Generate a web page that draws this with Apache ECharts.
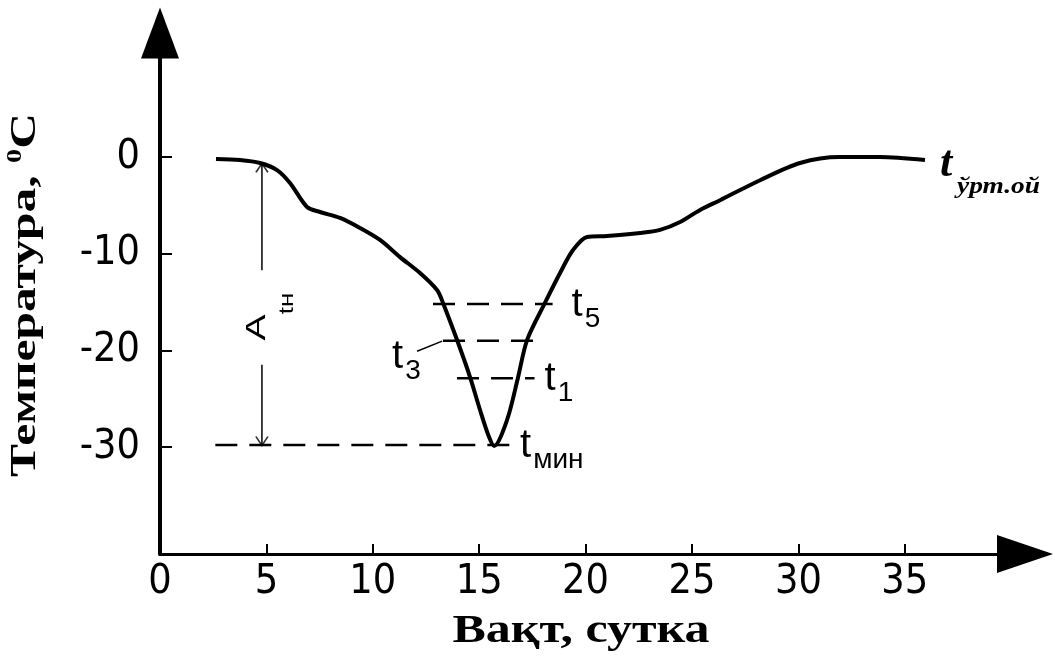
<!DOCTYPE html>
<html>
<head>
<meta charset="utf-8">
<title>Температура</title>
<script src="https://cdn.jsdelivr.net/npm/echarts@6.0.0/dist/echarts.min.js"></script>
<style>
  html, body { margin: 0; padding: 0; background: #fff; }
  #chart { width: 1055px; height: 660px; }
</style>
</head>
<body>
<div id="chart"></div>
<script>
// temperature curve
var days = [2.63, 3.76, 4.70, 5.50, 6.11, 6.91, 7.52, 8.46, 9.40, 10.34, 11.28, 12.22, 13.02, 13.3, 13.96, 14.57, 15.04, 15.45, 15.70, 16.31, 16.82, 17.25, 18.09, 18.80, 19.41, 20.07, 21.01, 22.56, 23.50, 24.44, 25.38, 26.32, 28.20, 30.08, 31.95, 33.83, 35.95]
var temps = [-0.2, -0.3, -0.61, -1.34, -2.68, -5.16, -5.68, -6.30, -7.34, -8.58, -10.35, -12.0, -13.76, -15.1, -18.94, -22.77, -26.18, -28.9, -29.9, -27.21, -22.86, -18.94, -15.1, -12.0, -9.62, -8.27, -8.17, -7.86, -7.54, -6.72, -5.47, -4.46, -2.39, -0.61, 0.0, 0.0, -0.3]

var dayTicks = [0, 5, 10, 15, 20, 25, 30, 35]
var tempTicks = [0, -10, -20, -30]

// dashed levels t5, t3, t1, tмин
var levelSubs = ['5', '3', '1', 'мин']
var levelTemps = [-15.2, -19.0, -22.9, -29.8]
var levelFrom = [12.83, 13.3, 13.96, 2.6]
var levelTo = [18.45, 17.95, 17.6, 16.45]

// amplitude A_tн (top, gap start, gap end, bottom)
var ampDay = 4.79
var ampTemps = [-0.7, -11.7, -21.5, -29.8]

// leader line of t3
var leaderDays = [12.08, 13.26]
var leaderTemps = [-20.1, -19.05]

var SANS = '"Liberation Sans", Arial, sans-serif'
var SERIF = '"Liberation Serif", "Times New Roman", serif'
var NARROW = '"Liberation Sans Narrow", "DejaVu Sans Condensed", sans-serif'

var chart = echarts.init(document.getElementById('chart'))

var series = [{
  type: 'line',
  data: days.map(function(d, i) { return [d, temps[i]] }),
  smooth: 0.3,
  showSymbol: false,
  silent: true,
  z: 5,
  lineStyle: { color: '#000', width: 4 }
}]

levelTemps.forEach(function(t, i) {
  series.push({
    type: 'line',
    data: [[levelFrom[i], t], [levelTo[i], t]],
    showSymbol: false,
    silent: true,
    lineStyle: { color: '#000', width: 2.5, type: [22, 12] }
  })
})

series.push({
  type: 'line',
  data: [[ampDay, ampTemps[0]], [ampDay, ampTemps[1]], [ampDay, '-'], [ampDay, ampTemps[2]], [ampDay, ampTemps[3]]],
  showSymbol: false,
  connectNulls: false,
  silent: true,
  lineStyle: { color: '#000', width: 1.5 }
})
// open arrow ends of the amplitude line
series.push({
  type: 'scatter',
  data: [[ampDay, ampTemps[0]]],
  symbol: 'path://M0,10L5,0L10,10',
  symbolSize: [12, 9],
  symbolOffset: [0, 4],
  silent: true,
  itemStyle: { color: 'none', borderColor: '#000', borderWidth: 1.5 }
})
series.push({
  type: 'scatter',
  data: [[ampDay, ampTemps[3]]],
  symbol: 'path://M0,0L5,10L10,0',
  symbolSize: [12, 9],
  symbolOffset: [0, -4],
  silent: true,
  itemStyle: { color: 'none', borderColor: '#000', borderWidth: 1.5 }
})

series.push({
  type: 'line',
  data: leaderDays.map(function(d, i) { return [d, leaderTemps[i]] }),
  showSymbol: false,
  silent: true,
  lineStyle: { color: '#000', width: 1.5 }
})

chart.setOption({
  animation: false,
  backgroundColor: '#fff',
  grid: { left: 160, right: 30, top: 33, bottom: 106, containLabel: false },
  xAxis: {
    type: 'value',
    min: 0,
    max: 40.65,
    splitLine: { show: false },
    axisLine: {
      onZero: false,
      symbol: ['none', 'triangle'],
      symbolSize: [38, 56],
      lineStyle: { color: '#000', width: 3 }
    },
    axisTick: { inside: true, length: 10, customValues: dayTicks, lineStyle: { color: '#000', width: 2 } },
    axisLabel: { customValues: dayTicks, color: '#000', fontSize: 41, fontFamily: NARROW, margin: 8 }
  },
  yAxis: {
    type: 'value',
    min: -41.09,
    max: 12.85,
    splitLine: { show: false },
    axisLine: {
      onZero: false,
      symbol: ['none', 'triangle'],
      symbolSize: [38, 51],
      lineStyle: { color: '#000', width: 4 }
    },
    axisTick: { inside: true, length: 12, customValues: tempTicks, lineStyle: { color: '#000', width: 2 } },
    axisLabel: { customValues: tempTicks, color: '#000', fontSize: 41, fontFamily: NARROW, margin: 20 }
  },
  series: series
})

// texts placed from data anchors
var ctx = document.createElement('canvas').getContext('2d')
function textWidth(s, font) {
  ctx.font = font
  return ctx.measureText(s).width
}
function at(x, y) {
  return chart.convertToPixel({ gridIndex: 0 }, [x, y])
}
function txt(x, y, s, font, opts) {
  opts = opts || {}
  return {
    type: 'text',
    x: x,
    y: y,
    rotation: opts.rotation || 0,
    scaleX: opts.scaleX || 1,
    silent: true,
    style: {
      text: s,
      font: font,
      fill: '#000',
      align: opts.align || 'left',
      verticalAlign: 'middle',
      rich: opts.rich
    }
  }
}

var graphic = []
var tFont = '40px ' + SANS
levelSubs.forEach(function(sub, i) {
  var p, tx, ty
  if (i === 1) {
    p = at(leaderDays[0], leaderTemps[0])
    tx = p[0] - 25
    ty = p[1] + 6
  } else {
    p = at(levelTo[i], levelTemps[i])
    tx = p[0] + (i === 0 ? 19 : 10)
    ty = p[1] + 1
  }
  graphic.push(txt(tx, ty, 't', tFont))
  graphic.push(txt(tx + textWidth('t', tFont) + 2, ty + 14, sub, '28px ' + SANS))
})

// t ўрт.ой at the end of the curve
var pe = at(days[days.length - 1], temps[temps.length - 1])
graphic.push(txt(pe[0] + 15, pe[1] + 5, 't', 'italic bold 44px ' + SERIF))
var subFont = 'italic bold 24px ' + SERIF
graphic.push(txt(pe[0] + 32, pe[1] + 27, 'ўрт.ой', subFont, { scaleX: 83 / textWidth('ўрт.ой', subFont) }))

// A_tн, rotated, in the gap of the amplitude line
var pa = at(ampDay, (ampTemps[1] + ampTemps[2]) / 2)
graphic.push(txt(pa[0] - 5, pa[1] + 10, 'A', '28px ' + SANS, { rotation: Math.PI / 2, scaleX: 1.4, align: 'center' }))
graphic.push(txt(pa[0] + 26, pa[1] - 14, 'tн', '20px ' + SANS, { rotation: Math.PI / 2, scaleX: 1.3, align: 'center' }))

// axis titles
var xFont = 'bold 40px ' + SERIF
var xTitle = 'Вақт, сутка'
graphic.push(txt(581, 632, xTitle, xFont, { align: 'center', scaleX: 257 / textWidth(xTitle, xFont) }))

var yFont = 'bold 35px ' + SERIF
var yLen = textWidth('Температура, C', yFont) + textWidth('0', 'bold 20px ' + SERIF)
graphic.push(txt(26, 295, '{a|Температура, }{s|0}{a|C}', yFont, {
  rotation: Math.PI / 2,
  align: 'center',
  scaleX: 364 / yLen,
  rich: {
    a: { font: yFont, fill: '#000', lineHeight: 40 },
    s: { font: 'bold 20px ' + SERIF, fill: '#000', verticalAlign: 'top', lineHeight: 20 }
  }
}))

chart.setOption({ graphic: graphic })
</script>
</body>
</html>
